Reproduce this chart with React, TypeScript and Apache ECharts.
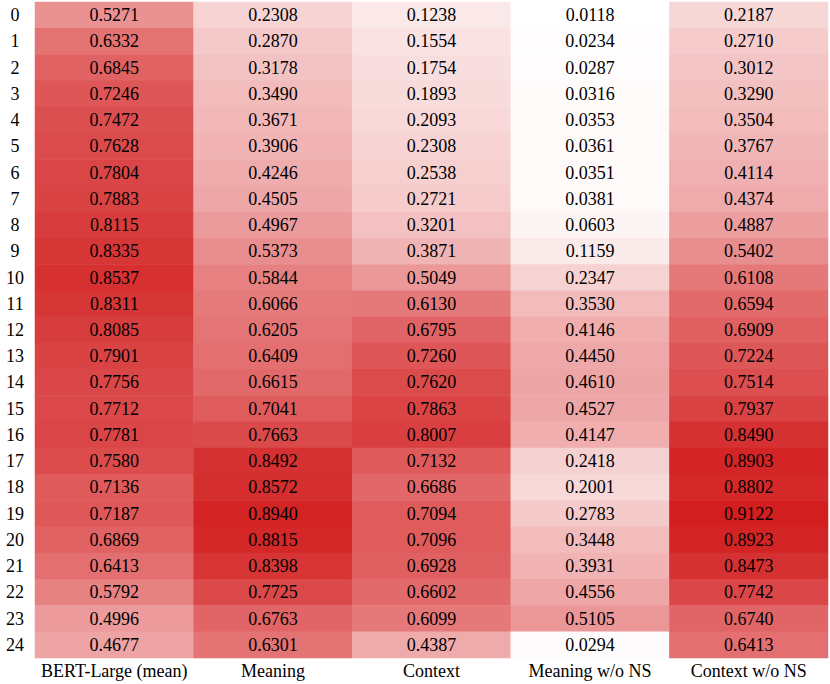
import React, { useEffect, useRef } from "react";
import * as echarts from "echarts";

const columns = ["BERT-Large (mean)", "Meaning", "Context", "Meaning w/o NS", "Context w/o NS"];
const rows = Array.from({ length: 25 }, (_, i) => String(i));

const bertLarge = [0.5271, 0.6332, 0.6845, 0.7246, 0.7472, 0.7628, 0.7804, 0.7883, 0.8115, 0.8335, 0.8537, 0.8311, 0.8085, 0.7901, 0.7756, 0.7712, 0.7781, 0.7580, 0.7136, 0.7187, 0.6869, 0.6413, 0.5792, 0.4996, 0.4677];
const meaning = [0.2308, 0.2870, 0.3178, 0.3490, 0.3671, 0.3906, 0.4246, 0.4505, 0.4967, 0.5373, 0.5844, 0.6066, 0.6205, 0.6409, 0.6615, 0.7041, 0.7663, 0.8492, 0.8572, 0.8940, 0.8815, 0.8398, 0.7725, 0.6763, 0.6301];
const context = [0.1238, 0.1554, 0.1754, 0.1893, 0.2093, 0.2308, 0.2538, 0.2721, 0.3201, 0.3871, 0.5049, 0.6130, 0.6795, 0.7260, 0.7620, 0.7863, 0.8007, 0.7132, 0.6686, 0.7094, 0.7096, 0.6928, 0.6602, 0.6099, 0.4387];
const meaningNoNS = [0.0118, 0.0234, 0.0287, 0.0316, 0.0353, 0.0361, 0.0351, 0.0381, 0.0603, 0.1159, 0.2347, 0.3530, 0.4146, 0.4450, 0.4610, 0.4527, 0.4147, 0.2418, 0.2001, 0.2783, 0.3448, 0.3931, 0.4556, 0.5105, 0.0294];
const contextNoNS = [0.2187, 0.2710, 0.3012, 0.3290, 0.3504, 0.3767, 0.4114, 0.4374, 0.4887, 0.5402, 0.6108, 0.6594, 0.6909, 0.7224, 0.7514, 0.7937, 0.8490, 0.8903, 0.8802, 0.9122, 0.8923, 0.8473, 0.7742, 0.6740, 0.6413];

const seriesCols = [bertLarge, meaning, context, meaningNoNS, contextNoNS];

export default function App() {
  const ref = useRef<HTMLDivElement>(null);
  useEffect(() => {
    if (!ref.current) return;
    const chart = echarts.init(ref.current, undefined, { renderer: "svg" });
    const data: any[] = [];
    seriesCols.forEach((col, ci) => col.forEach((v, ri) => data.push([ci, ri, v])));
    const font = "serif";
    const txt = { color: "#000", fontFamily: font, fontSize: 18 };
    chart.setOption({
      animation: false,
      textStyle: { fontFamily: font, fontSize: 18 },
      grid: { left: 35, right: 2, top: 2, bottom: 26 },
      xAxis: {
        type: "category",
        data: columns,
        axisLine: { show: false },
        axisTick: { show: false },
        splitLine: { show: false },
        axisLabel: { ...txt, margin: 4, interval: 0 },
      },
      yAxis: {
        type: "category",
        data: rows,
        inverse: true,
        axisLine: { show: false },
        axisTick: { show: false },
        splitLine: { show: false },
        axisLabel: { ...txt, margin: 20, align: "center", interval: 0 },
      },
      visualMap: {
        show: false,
        min: 0.0118,
        max: 0.9122,
        dimension: 2,
        inRange: { color: ["#ffffff", "#eea5a6", "#d21e1f"] },
      },
      series: [
        {
          type: "heatmap",
          data,
          label: {
            show: true,
            ...txt,
            formatter: (p: any) => "{v|" + p.value[2].toFixed(4) + "}",
            rich: { v: { ...txt } },
          },
          itemStyle: { borderWidth: 0 },
          emphasis: { disabled: true },
        },
      ],
    });
    return () => chart.dispose();
  }, []);
  return (
    <div
      ref={ref}
      style={{ position: "absolute", left: 0, top: 0, width: 830, height: 684 }}
    />
  );
}
